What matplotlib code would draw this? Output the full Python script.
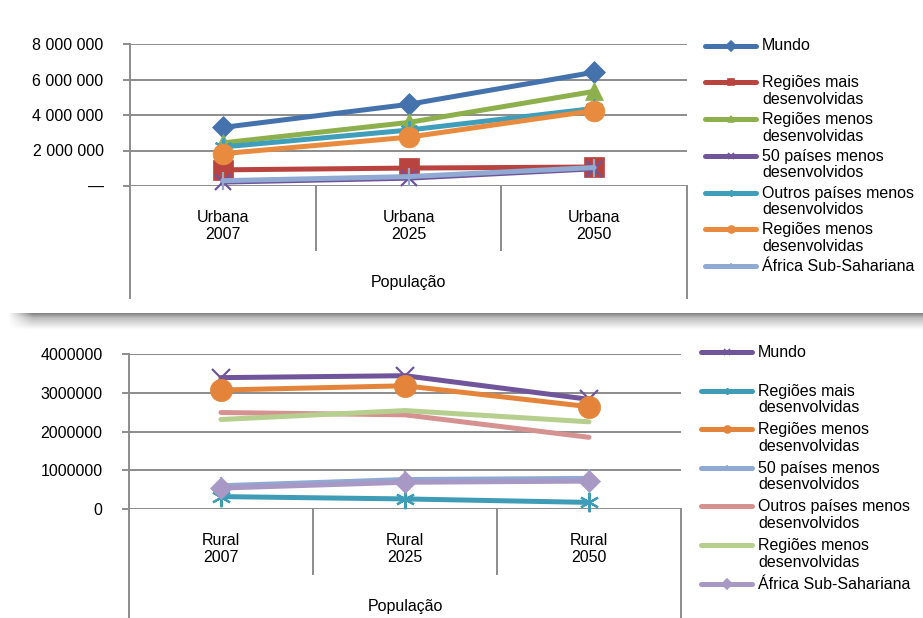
import numpy as np
import matplotlib.pyplot as plt
from matplotlib.lines import Line2D
from matplotlib.ticker import FuncFormatter

plt.rcParams['font.family'] = ['Liberation Sans', 'DejaVu Sans']
plt.rcParams['font.size'] = 11.5

# Dados (milhares de habitantes)
cat_urbana = ["Urbana\n2007", "Urbana\n2025", "Urbana\n2050"]
cat_rural = ["Rural\n2007", "Rural\n2025", "Rural\n2050"]

nomes_urb = ["Mundo", "Regiões mais\ndesenvolvidas", "Regiões menos\ndesenvolvidas",
             "50 países menos\ndesenvolvidos", "Outros países menos\ndesenvolvidos",
             "Regiões menos\ndesenvolvidas", "África Sub-Sahariana"]
mundo_urb = [3300000, 4600000, 6410000]
mais_urb = [910000, 1010000, 1070000]
menos_urb = [2430000, 3580000, 5330000]
ldc_urb = [220000, 440000, 970000]
outros_urb = [2200000, 3150000, 4370000]
laranja_urb = [1820000, 2750000, 4250000]
ssa_urb = [300000, 530000, 1040000]

nomes_rur = ["Mundo", "Regiões mais\ndesenvolvidas", "Regiões menos\ndesenvolvidas",
             "50 países menos\ndesenvolvidos", "Outros países menos\ndesenvolvidos",
             "Regiões menos\ndesenvolvidas", "África Sub-Sahariana"]
mundo_rur = [3390000, 3440000, 2830000]
mais_rur = [320000, 260000, 170000]
menos_rur = [3070000, 3180000, 2640000]
ldc_rur = [600000, 760000, 790000]
outros_rur = [2490000, 2430000, 1850000]
verde_rur = [2310000, 2540000, 2250000]
ssa_rur = [540000, 690000, 720000]

series_urb = [mundo_urb, mais_urb, menos_urb, ldc_urb, outros_urb, laranja_urb, ssa_urb]
series_rur = [mundo_rur, mais_rur, menos_rur, ldc_rur, outros_rur, verde_rur, ssa_rur]

# estilos: (cor, marcador, tamanho)
estrela = (6, 2, 0)
estilos_urb = [("#4372AD", "D", 11), ("#B8433F", "s", 14), ("#8DB04D", "^", 13),
               ("#70559A", "x", 12), ("#3F9FBB", estrela, 13), ("#E98B3F", "o", 15),
               ("#90AAD3", "|", 13)]
estilos_rur = [("#70559A", "x", 13), ("#3F9CB7", estrela, 14), ("#E4843A", "o", 16),
               ("#8FA9D3", "|", 13), ("#D69290", None, 0), ("#B6CE8E", None, 0),
               ("#A898C5", "D", 11)]

W, H = 923, 618
fig = plt.figure(figsize=(W / 100, H / 100), dpi=100)

# sombra entre os dois cartões, esbatida na ponta esquerda
sombra = fig.add_axes([8 / W, 1 - 330 / H, 1 - 8 / W, 17 / H])
grad = np.concatenate([np.linspace(0.52, 0.72, 5), np.linspace(0.75, 1.0, 12)])
img = np.tile(grad[:, None], (1, 900))
fade = np.ones(900)
fade[:25] = np.linspace(0, 1, 25)
sombra.imshow(img, cmap="gray", vmin=0, vmax=1, alpha=np.tile(fade[None, :], (17, 1)),
              aspect="auto", interpolation="bilinear")
sombra.axis("off")


def painel(px_esq, px_dir, px_topo, px_base, px_fundo, px_sep, px_rotulo):
    ax = fig.add_axes([px_esq / W, 1 - px_base / H, (px_dir - px_esq) / W,
                       (px_base - px_topo) / H])
    alt = px_base - px_topo
    for s in ax.spines.values():
        s.set_visible(False)
    ax.set_xlim(-0.5, 2.5)
    ax.yaxis.grid(True, color="#8C8C8C", linewidth=1.4)
    ax.set_axisbelow(True)
    ax.tick_params(axis="y", length=5, width=1.4, color="#8C8C8C", pad=14)
    ax.tick_params(axis="x", length=0, pad=17)
    tr = ax.get_xaxis_transform()
    fundo = -(px_fundo - px_base) / alt
    sep = -(px_sep - px_base) / alt
    ax.plot([-0.5, -0.5], [1, fundo], transform=tr, color="#8C8C8C", lw=1.4, clip_on=False)
    ax.plot([2.5, 2.5], [0, fundo], transform=tr, color="#8C8C8C", lw=1.4, clip_on=False)
    for xs in (0.5, 1.5):
        ax.plot([xs, xs], [0, sep], transform=tr, color="#8C8C8C", lw=1.4, clip_on=False)
    ax.text(0.5, -(px_rotulo - px_base) / alt, "População", transform=ax.transAxes,
            ha="center", va="center")
    return ax


def desenhar(ax, cats, series, estilos):
    x = np.arange(len(cats))
    for i, (vals, (cor, mk, ms)) in enumerate(zip(series, estilos)):
        ax.plot(x, vals, color=cor, lw=3.6, marker=mk, markersize=ms,
                markeredgewidth=1.6 if mk in ("x", "|", estrela) else 0.5,
                markeredgecolor=cor, solid_capstyle="round", zorder=3 + i,
                clip_on=False)
    ax.set_xticks(x, cats)


def legenda(nomes, estilos, x0, x1, xt, y0, passo):
    for i, (nome, (cor, mk, ms)) in enumerate(zip(nomes, estilos)):
        y = 1 - (y0 + i * passo) / H
        fig.add_artist(Line2D([x0 / W, x1 / W], [y, y], color=cor, lw=3.6,
                              solid_capstyle="round"))
        if mk is not None:
            fig.add_artist(Line2D([(x0 + x1) / 2 / W], [y], color=cor, marker=mk,
                                  markersize=5, markeredgewidth=1.2, markeredgecolor=cor))
        fig.text(xt / W, y + 7 / H, nome, ha="left", va="top", linespacing=1.13)


# painel urbano
ax1 = painel(130, 687, 44, 186, 298, 250, 282)
desenhar(ax1, cat_urbana, series_urb, estilos_urb)
ax1.set_ylim(0, 8000000)
ax1.set_yticks(np.arange(0, 8000001, 2000000))
ax1.yaxis.set_major_formatter(FuncFormatter(
    lambda v, p: "—" if v == 0 else f"{int(v):,}".replace(",", " ")))
legenda(nomes_urb, estilos_urb, 705, 756, 762, 45.5, 36.8)

# painel rural
ax2 = painel(129, 681, 354, 509, 640, 574, 606)
desenhar(ax2, cat_rural, series_rur, estilos_rur)
ax2.set_ylim(0, 4000000)
ax2.set_yticks(np.arange(0, 4000001, 1000000))
ax2.yaxis.set_major_formatter(FuncFormatter(lambda v, p: f"{int(v)}"))
legenda(nomes_rur, estilos_rur, 701, 752, 758, 352, 38.6)

fig.savefig("out.png", dpi=100)
